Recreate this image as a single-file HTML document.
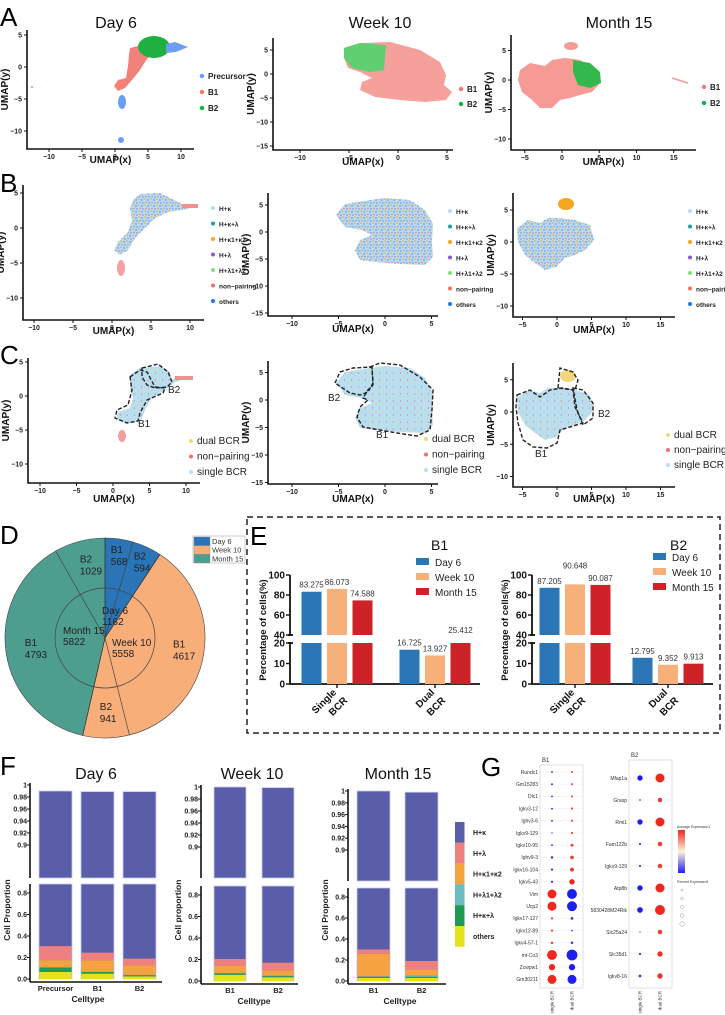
<!DOCTYPE html>
<html><head><meta charset="utf-8">
<style>
html,body{margin:0;padding:0;background:#fff;}
svg{display:block;font-family:"Liberation Sans",sans-serif;}
.tk{font-size:7px;font-weight:bold;fill:#222;}
.lg{font-size:8px;font-weight:bold;fill:#222;}
.lgs{font-size:6.5px;font-weight:bold;fill:#222;}
.lgc{font-size:10px;fill:#222;}
.pl{font-size:26px;fill:#000;}
.ttl{font-size:16px;fill:#111;}
</style></head>
<body>
<svg id="fig" width="725" height="1015" viewBox="0 0 725 1015" xmlns="http://www.w3.org/2000/svg">
<defs>
<pattern id="mixB" width="6" height="6" patternUnits="userSpaceOnUse">
<rect width="6" height="6" fill="#b5ddf2"/>
<circle cx="1" cy="1" r="0.8" fill="#f5a623"/><circle cx="4" cy="2" r="0.7" fill="#8a5cd0"/>
<circle cx="2" cy="4.5" r="0.7" fill="#f07070"/><circle cx="5" cy="5" r="0.6" fill="#1f77e4"/>
</pattern>
<pattern id="mixC" width="7" height="7" patternUnits="userSpaceOnUse">
<rect width="7" height="7" fill="#b8def2"/>
<circle cx="1.5" cy="2" r="0.6" fill="#f07070"/><circle cx="5" cy="5" r="0.7" fill="#f3d67c"/>
</pattern>
</defs>

<text class="pl" x="0" y="26">A</text>
<text class="pl" x="0" y="192">B</text>
<text class="pl" x="0" y="364">C</text>
<text class="pl" x="0" y="544">D</text>
<text class="pl" x="250" y="545">E</text>
<text class="pl" x="0" y="775">F</text>
<text class="pl" x="481" y="776">G</text>

<text class="ttl" x="116" y="28" text-anchor="middle">Day 6</text>
<text class="ttl" x="380" y="28" text-anchor="middle">Week 10</text>
<text class="ttl" x="619" y="28" text-anchor="middle">Month 15</text>

<g>
<polygon points="130,48 142,45 150,55 145,62 140,70 132,80 125,88 118,91 114,86 118,80 126,78 128,66 129,55" fill="#f3817b"/>
<ellipse cx="154" cy="47" rx="16" ry="11" fill="#1fb040"/>
<polygon points="166,44 175,42 188,47 176,52 166,53" fill="#6a9ff5"/>
<ellipse cx="122" cy="102" rx="4" ry="7" fill="#6a9ff5"/>
<ellipse cx="121" cy="140" rx="3" ry="3" fill="#6a9ff5"/>
<circle cx="32" cy="87" r="1" fill="#f3817b"/>
</g>
<g>
<polygon points="344,48 360,43 390,42 420,50 440,62 446,75 444,85 452,92 446,100 425,102 400,100 375,97 360,90 362,82 372,78 360,72 348,68 344,58" fill="#f6a09b"/>
<polygon points="344,48 360,43 386,45 384,70 370,72 352,68 344,58" fill="#5fcf72"/>
</g>
<g>
<polygon points="520,70 530,63 545,66 552,60 565,58 580,60 598,70 601,82 592,92 580,95 570,98 560,100 552,108 540,108 532,100 522,92 518,80" fill="#f59a94"/>
<polygon points="573,60 590,63 600,72 601,83 590,88 578,85 573,72" fill="#33b84e"/>
<ellipse cx="571" cy="46" rx="7" ry="4" fill="#f59a94"/>
<line x1="672" y1="78" x2="688" y2="83" stroke="#f59a94" stroke-width="1.5"/>
</g>

<g>
<polygon points="133,200 140,194 160,193 170,198 182,204 198,206 182,210 168,212 155,218 145,228 135,238 128,250 120,255 114,250 118,242 128,232 132,220 130,208" fill="url(#mixB)"/>
<rect x="182" y="204" width="16" height="4" fill="#f29090"/>
<ellipse cx="121" cy="268" rx="4" ry="8" fill="#f3a0a0"/>
</g>
<g>
<polygon points="336,215 345,204 370,200 385,198 410,200 425,210 433,224 432,242 433,257 425,265 400,264 375,262 360,260 355,250 360,240 372,235 362,230 345,227" fill="url(#mixB)"/>
</g>
<g>
<polygon points="517,228 528,220 540,223 548,218 560,218 575,220 590,225 594,240 585,250 575,255 565,258 556,267 545,270 535,263 525,255 518,242" fill="url(#mixB)"/>
<ellipse cx="566" cy="204" rx="8" ry="6" fill="#f5a623"/>
</g>

<g>
<polygon points="130,375 140,368 160,366 170,372 172,380 175,378 193,377 175,382 165,390 152,398 146,408 141,420 130,423 116,420 118,412 130,408 133,398 130,388" fill="url(#mixC)"/>
<rect x="175" y="376" width="18" height="4" fill="#f29090"/>
<ellipse cx="122" cy="436" rx="4" ry="6" fill="#f3a0a0"/>
<polygon points="130,377 140,370 147,372 155,387 165,388 163,393 147,400 140,413 138,421 127,423 115,418 117,410 128,405 132,390" fill="none" stroke="#222" stroke-width="1.4" stroke-dasharray="4,2"/>
<polygon points="142,368 158,364 168,372 172,382 167,387 155,388 147,385 142,377" fill="none" stroke="#222" stroke-width="1.4" stroke-dasharray="4,2"/>
<text class="lgc" x="138" y="427">B1</text>
<text class="lgc" x="168" y="393">B2</text>
</g>
<g>
<polygon points="336,383 345,372 370,368 385,366 410,368 425,378 433,392 432,410 433,425 425,433 400,432 375,430 360,428 355,418 360,408 372,403 362,398 345,395" fill="url(#mixC)"/>
<polygon points="335,383 340,372 353,368 372,367 373,383 368,392 360,395 350,393" fill="none" stroke="#222" stroke-width="1.4" stroke-dasharray="4,2"/>
<polygon points="370,367 380,363 400,365 420,377 433,390 432,410 430,430 417,436 397,433 380,430 363,427 357,417 360,407 368,400 363,398 368,390 373,385 372,368" fill="none" stroke="#222" stroke-width="1.4" stroke-dasharray="4,2"/>
<text class="lgc" x="328" y="401">B2</text>
<text class="lgc" x="376" y="438">B1</text>
</g>
<g>
<polygon points="517,398 528,390 540,393 548,388 560,388 575,390 590,395 594,410 585,420 575,425 565,428 556,437 545,440 535,433 525,425 518,412" fill="url(#mixC)"/>
<ellipse cx="568" cy="376" rx="8" ry="6" fill="#f3d67c"/>
<polygon points="517,395 530,390 540,397 550,390 562,388 573,390 575,407 583,423 560,430 557,443 547,448 533,447 523,440 518,423 516,407" fill="none" stroke="#222" stroke-width="1.4" stroke-dasharray="4,2"/>
<polygon points="573,388 583,390 593,403 593,418 583,425 577,410" fill="none" stroke="#222" stroke-width="1.4" stroke-dasharray="4,2"/>
<polygon points="558,388 560,368 573,372 578,380 575,390" fill="none" stroke="#222" stroke-width="1.4" stroke-dasharray="4,2"/>
<text class="lgc" x="598" y="417">B2</text>
<text class="lgc" x="535" y="457">B1</text>
</g>

<g id="umapAxes"></g>
<g id="legends"></g>
<g id="pieD"></g>
<rect x="247" y="517" width="473" height="216" fill="none" stroke="#222" stroke-width="1.5" stroke-dasharray="6,4"/>
<g id="chartE"></g>
<g id="chartF"></g>
<g id="chartG"></g>
</svg>

<script>
const pieGroups = ["Day 6","Week 10","Month 15"];
const pieGroupTotals = [1162, 5558, 5822];
const pieSubLabels = [["B1","B2"],["B1","B2"],["B1","B2"]];
const pieSubValues = [[568,594],[4617,941],[4793,1029]];
const eCategories = ["Single BCR","Dual BCR"];
const eSeries = ["Day 6","Week 10","Month 15"];
const eB1Single = [83.275, 86.073, 74.588];
const eB1Dual = [16.725, 13.927, 25.412];
const eB2Single = [87.205, 90.648, 90.087];
const eB2Dual = [12.795, 9.352, 9.913];
const eLowTicks = [0,10,20];
const eHighTicks = [40,60,80,100];
const fLayers = ["others","H+κ+λ","H+λ1+λ2","H+κ1+κ2","H+λ"];
const fLegend = ["H+κ","H+λ","H+κ1+κ2","H+λ1+λ2","H+κ+λ","others"];
const fDay6Cats = ["Precursor","B1","B2"];
const fDay6Vals = [[0.066,0.04,0.005,0.065,0.13],[0.05,0.015,0.005,0.105,0.07],[0.025,0.01,0.003,0.09,0.062]];
const fDay6Top = [0.99,0.989,0.989];
const fW10Cats = ["B1","B2"];
const fW10Vals = [[0.058,0.012,0.003,0.067,0.065],[0.035,0.01,0.005,0.05,0.07]];
const fW10Top = [1.0,0.999];
const fM15Cats = ["B1","B2"];
const fM15Vals = [[0.03,0.01,0.005,0.215,0.04],[0.03,0.01,0.01,0.06,0.08]];
const fM15Top = [1.0,0.998];
const fLowTicks = [0,0.2,0.4,0.6,0.8];
const fHighTicks = [0.9,0.92,0.94,0.96,0.98,1];
const gB1Genes = ["Rundc1","Gm15283","Dlc1","Igkv3-12","Ighv3-6","Igkv9-129","Igkv10-95","Ighv9-3","Igkv16-104","Igkv5-43","Vim","Ucp2","Igkv17-127","Igkv12-89","Igkv4-57-1","mt-Co3","Zcwpw1","Gm30211"];
const gB1ExpSingle = [-1,-1,-1,-1,-1,-0.8,-1,-1,-1,-1,1,1,0.8,0.8,0.8,1,1,1];
const gB1ExpDual = [0.8,0.8,0.8,0.8,0.8,0.8,0.9,0.9,0.9,1,-1,-1,-0.9,-0.8,-0.9,-1,-1,-1];
const gB1PctSingle = [1,1,1,1,1,0.8,1,1.3,1.2,1.2,5,5,1.3,1.3,1.5,5.5,3.5,5];
const gB1PctDual = [1.2,1.2,1.2,1.3,1.3,1.3,1.6,2,2.2,3,5.5,5.5,1.5,1,1.4,6,3.5,5];
const gB2Genes = ["Mfap1a","Grasp","Rmi1","Fam122b","Igkv9-129","Atp8b","5830428M24Rik","Slc25a24","Slc35d1","Igkv8-16"];
const gB2ExpSingle = [-1,-0.8,-1,-0.9,-0.9,-1,-1,-0.7,-0.9,-0.9];
const gB2ExpDual = [1,0.9,1,0.9,0.9,1,1,0.9,0.95,0.95];
const gB2PctSingle = [3,1,3,1.2,1.2,3,3.2,0.8,1.3,1.5];
const gB2PctDual = [5,2.5,5,2.5,2.5,5,5.5,2.5,3,3];

const NS = "http://www.w3.org/2000/svg";
function mk(parent, tag, attrs, text){
  const e = document.createElementNS(NS, tag);
  for (const k in attrs) e.setAttribute(k, attrs[k]);
  if (text !== undefined) e.textContent = text;
  parent.appendChild(e);
  return e;
}

const umapPanels = [
 {id:"a-day6",l:27,t:30,r:194,b:149,x0:115,xs:6.6,xt:[-10,-5,0,5,10],y0:67,ys:6.4,yt:[5,0,-5,-10],xl:163},
 {id:"a-week10",l:273,t:38,r:453,b:150,x0:398,xs:9.8,xt:[-10,-5,0,5],y0:74,ys:4.8,yt:[5,0,-5,-10,-15],xl:165},
 {id:"a-month15",l:511,t:35,r:696,b:150,x0:562,xs:7.45,xt:[-5,0,5,10,15],y0:80,ys:5.9,yt:[5,0,-5,-10],xl:165},
 {id:"b-day6",l:23,t:185,r:204,b:320,x0:112,xs:7.8,xt:[-10,-5,0,5,10],y0:228,ys:7,yt:[5,0,-5,-10],xl:334},
 {id:"b-week10",l:268,t:193,r:438,b:316,x0:385,xs:9.3,xt:[-10,-5,0,5],y0:232,ys:5.4,yt:[5,0,-5,-10,-15],xl:332},
 {id:"b-month15",l:513,t:193,r:675,b:317,x0:557,xs:6.9,xt:[-5,0,5,10,15],y0:242,ys:6.4,yt:[5,0,-5,-10],xl:333},
 {id:"c-day6",l:28,t:358,r:200,b:483,x0:113,xs:7.3,xt:[-10,-5,0,5,10],y0:396,ys:6.8,yt:[5,0,-5,-10],xl:502},
 {id:"c-week10",l:268,t:361,r:438,b:484,x0:385,xs:9.3,xt:[-10,-5,0,5],y0:400,ys:5.5,yt:[5,0,-5,-10,-15],xl:502},
 {id:"c-month15",l:513,t:363,r:675,b:487,x0:557,xs:6.9,xt:[-5,0,5,10,15],y0:412,ys:6.45,yt:[5,0,-5,-10],xl:502}
];
const ua = document.getElementById("umapAxes");
umapPanels.forEach(p=>{
  const g = mk(ua,"g",{});
  
  
  mk(g,"path",{d:`M${p.l},${p.t}V${p.b}H${p.r}`,fill:"none",stroke:"#111","stroke-width":1.6});
  p.xt.forEach(v=>{
    const x = p.x0 + v*p.xs;
    mk(g,"line",{x1:x,y1:p.b,x2:x,y2:p.b+3,stroke:"#111"});
    const t = mk(g,"text",{x:x,y:p.b+10,"text-anchor":"middle",class:"tk"}, v===0?"0":String(v).replace("-","−"));
    
    
  });
  p.yt.forEach(v=>{
    const y = p.y0 - v*p.ys;
    mk(g,"line",{x1:p.l-3,y1:y,x2:p.l,y2:y,stroke:"#111"});
    const t = mk(g,"text",{x:p.l-5,y:y+2.5,"text-anchor":"end",class:"tk"}, String(v).replace("-","−"));
    
    
  });
  const xt = mk(g,"text",{x:(p.l+p.r)/2,y:p.xl,"text-anchor":"middle",style:"font-size:10px;font-weight:bold;fill:#111"},"UMAP(x)");
  
  
  const yc = (p.t+p.b)/2;
  const yt = mk(g,"text",{x:p.l-19,y:yc,"text-anchor":"middle",transform:`rotate(-90 ${p.l-19} ${yc})`,style:"font-size:10px;font-weight:bold;fill:#111"},"UMAP(y)");
  
  
});

const legA1 = [["Precursor","#619cff"],["B1","#f8766d"],["B2","#00ba38"]];
const legA2 = [["B1","#f8766d"],["B2","#00ba38"]];
const legB = [["H+κ","#b5ddf2"],["H+κ+λ","#1aa5a0"],["H+κ1+κ2","#f5a623"],["H+λ","#8a5cd0"],["H+λ1+λ2","#7fe07f"],["non−pairing","#f07070"],["others","#1f77e4"]];
const legC = [["dual BCR","#f3d67c"],["non−pairing","#f07070"],["single BCR","#b8def2"]];
const lg = document.getElementById("legends");
function legend(items, x, y, dy, cls, r, name){
  const g = mk(lg,"g",{});
  
  
  items.forEach((it,i)=>{
    const e = mk(g,"g",{});
    
    
    mk(e,"circle",{cx:x,cy:y+i*dy,r:r,fill:it[1]});
    mk(e,"text",{x:x+6,y:y+i*dy+3,class:cls},it[0]);
  });
}
legend(legA1,202,76,16,"lg",2.2,"legend-a-day6");
legend(legA2,461,89,15,"lg",2.2,"legend-a-week10");
legend(legA2,704,87,16,"lg",2.2,"legend-a-month15");
legend(legB,213,208,15.5,"lgs",2,"legend-b-day6");
legend(legB,450,211,15.5,"lgs",2,"legend-b-week10");
legend(legB,690,211,15.5,"lgs",2,"legend-b-month15");
legend(legC,191,441,15.5,"lgc",2,"legend-c-day6");
legend(legC,426,439,15.5,"lgc",2,"legend-c-week10");
legend(legC,668,435,15,"lgc",2,"legend-c-month15");

const pieColors = ["#2a75b8","#f8ae78","#4e9e90"];
(function(){
  const g = document.getElementById("pieD");
  const cx=105, cy=638, R=100, r=50;
  const total = pieGroupTotals.reduce((a,b)=>a+b,0);
  const pt=(a,rad)=>[cx+rad*Math.sin(a), cy-rad*Math.cos(a)];
  let a0 = 0;
  pieGroups.forEach((grp,gi)=>{
    const subs = pieSubValues[gi];
    let sa = a0;
    subs.forEach((v,si)=>{
      const da = v/total*2*Math.PI;
      const p1=pt(sa,R), p2=pt(sa+da,R);
      const s = mk(g,"path",{d:`M${cx},${cy}L${p1[0]},${p1[1]}A${R},${R} 0 ${da>Math.PI?1:0} 1 ${p2[0]},${p2[1]}Z`,fill:pieColors[gi],stroke:"#444","stroke-width":0.6});
      
      
      const m = sa+da/2, lp = pt(m, (R+r)/2+ (gi===0?8:0));
      const t1 = mk(g,"text",{x:lp[0]-6,y:lp[1]-3,style:"font-size:10px;fill:#222"},pieSubLabels[gi][si]);
      const t2 = mk(g,"text",{x:lp[0]-6,y:lp[1]+9,style:"font-size:10px;fill:#222"},String(v));
      
      
      
      
      sa += da;
    });
    a0 += pieGroupTotals[gi]/total*2*Math.PI;
  });
  mk(g,"circle",{cx:cx,cy:cy,r:r,fill:"none",stroke:"#444","stroke-width":0.7});
  let b0=0;
  const innerPos = [[-3,-24],[7,8],[-42,-4]];
  pieGroups.forEach((grp,gi)=>{
    const p = pt(b0,R);
    mk(g,"line",{x1:cx,y1:cy,x2:p[0],y2:p[1],stroke:"#333","stroke-width":0.6});
    const t1 = mk(g,"text",{x:cx+innerPos[gi][0],y:cy+innerPos[gi][1],style:"font-size:10px;fill:#222"},grp);
    const t2 = mk(g,"text",{x:cx+innerPos[gi][0],y:cy+innerPos[gi][1]+11,style:"font-size:10px;fill:#222"},String(pieGroupTotals[gi]));
    
    
    
    
    b0 += pieGroupTotals[gi]/total*2*Math.PI;
  });
  const lgd = mk(g,"g",{});
  
  
  mk(lgd,"rect",{x:193,y:536,width:52,height:27,fill:"#fff",stroke:"#aaa","stroke-width":0.6});
  pieGroups.forEach((grp,gi)=>{
    mk(lgd,"rect",{x:194,y:537+gi*8.7,width:16,height:8.5,fill:pieColors[gi],stroke:"#888","stroke-width":0.4});
    mk(lgd,"text",{x:212,y:544+gi*8.7,style:"font-size:7.5px;fill:#333"},grp);
  });
})();

const eColors = ["#2a76b6","#f8b07a","#cc2228"];
function eChart(ax, xEnd, centers, single, dual, title, titleX, legX, legY, name){
  const g = document.getElementById("chartE");
  const c = mk(g,"g",{});
  
  
  const yLow = v => 684 - v*2.05;
  const yHigh = v => 635 - (v-40)*1.0;
  mk(c,"path",{d:`M${ax},643V684H${xEnd}`,fill:"none",stroke:"#111","stroke-width":1.8});
  mk(c,"line",{x1:ax,y1:575,x2:ax,y2:635,stroke:"#111","stroke-width":1.8});
  mk(c,"line",{x1:ax-2,y1:635,x2:ax+3,y2:635,stroke:"#111","stroke-width":1.8});
  mk(c,"line",{x1:ax-2,y1:643,x2:ax+3,y2:643,stroke:"#111","stroke-width":1.8});
  eLowTicks.forEach(v=>{
    const y=yLow(v);
    mk(c,"line",{x1:ax-4,y1:y,x2:ax,y2:y,stroke:"#111","stroke-width":1.4});
    const t = mk(c,"text",{x:ax-5,y:y+3.5,"text-anchor":"end",style:"font-size:10px;font-weight:bold;fill:#111"},String(v));
    
    
  });
  eHighTicks.forEach(v=>{
    const y=yHigh(v);
    mk(c,"line",{x1:ax-4,y1:y,x2:ax,y2:y,stroke:"#111","stroke-width":1.4});
    const t = mk(c,"text",{x:ax-5,y:y+3.5,"text-anchor":"end",style:"font-size:10px;font-weight:bold;fill:#111"},String(v));
    
    
  });
  const yt = mk(c,"text",{x:ax-24,y:630,"text-anchor":"middle",transform:`rotate(-90 ${ax-24} 630)`,style:"font-size:9.5px;font-weight:bold;fill:#111"},"Percentage of cells(%)");
  
  
  [single, dual].forEach((vals,ci)=>{
    const cx = centers[ci];
    mk(c,"line",{x1:cx,y1:684,x2:cx,y2:688,stroke:"#111","stroke-width":1.4});
    vals.forEach((v,si)=>{
      const x = cx + (si-1)*25.5 - 10;
      const lowTop = Math.min(v,20);
      const b = mk(c,"rect",{x:x,y:yLow(lowTop),width:20,height:yLow(0)-yLow(lowTop),fill:eColors[si]});
      
      
      let ly;
      if (v>40){
        const h = mk(c,"rect",{x:x,y:yHigh(v),width:20,height:yHigh(40)-yHigh(v),fill:eColors[si]});
        
        
        ly = yHigh(v)-4 - (si===1 && ci===0 && title==="B2" ? 12 : 0);
      } else if (v>20){ ly = yLow(20)-10; }
      else { ly = yLow(v)-4; }
      const t = mk(c,"text",{x:x+10,y:ly,"text-anchor":"middle",style:"font-size:8px;fill:#333"},v.toFixed(3));
      
      
    });
    const parts = eCategories[ci].split(" ");
    const t1 = mk(c,"text",{x:cx,y:693,"text-anchor":"end",transform:`rotate(-45 ${cx} 693)`,style:"font-size:10px;font-weight:bold;fill:#111"},parts[0]);
    const t2 = mk(c,"text",{x:cx+11,y:701,"text-anchor":"end",transform:`rotate(-45 ${cx+11} 701)`,style:"font-size:10px;font-weight:bold;fill:#111"},parts[1]);
    
    
    
    
  });
  const tt = mk(c,"text",{x:titleX,y:550,style:"font-size:14px;fill:#111"},title);
  
  
  eSeries.forEach((s,si)=>{
    const e = mk(c,"g",{});
    
    
    mk(e,"rect",{x:legX,y:legY+si*15-4,width:13,height:7,fill:eColors[si]});
    mk(e,"text",{x:legX+19,y:legY+si*15+4,style:"font-size:10px;fill:#222"},s);
  });
}
eChart(290,480,[337,435],eB1Single,eB1Dual,"B1",431,416,562,"bar-chart-e-b1");
eChart(532,713,[575,668],eB2Single,eB2Dual,"B2",670,653,557,"bar-chart-e-b2");

const fColors = {"H+κ":"#5a5ea8","H+λ":"#ee8080","H+κ1+κ2":"#f7a240","H+λ1+λ2":"#6dbcc2","H+κ+λ":"#1f9a4f","others":"#e5e21a"};
function fChart(cfg){
  const g = document.getElementById("chartF");
  const c = mk(g,"g",{});
  
  
  const yU = v => cfg.u1 + (1-v)*cfg.us;
  const yL = v => cfg.l0 - v*cfg.ls;
  mk(c,"line",{x1:cfg.ax,y1:cfg.u1-2,x2:cfg.ax,y2:cfg.ub,stroke:"#111","stroke-width":1.6});
  mk(c,"line",{x1:cfg.ax,y1:cfg.lt,x2:cfg.ax,y2:cfg.l0+3,stroke:"#111","stroke-width":1.6});
  mk(c,"line",{x1:cfg.ax,y1:cfg.l0+3,x2:cfg.xe,y2:cfg.l0+3,stroke:"#111","stroke-width":1.6});
  fHighTicks.forEach(v=>{
    const y=yU(v);
    mk(c,"line",{x1:cfg.ax-3,y1:y,x2:cfg.ax,y2:y,stroke:"#111"});
    const t = mk(c,"text",{x:cfg.ax-3,y:y+2.5,"text-anchor":"end",style:"font-size:7px;font-weight:bold;fill:#222"},String(v));
    
    
  });
  fLowTicks.forEach(v=>{
    const y=yL(v);
    mk(c,"line",{x1:cfg.ax-3,y1:y,x2:cfg.ax,y2:y,stroke:"#111"});
    const t = mk(c,"text",{x:cfg.ax-3,y:y+2.5,"text-anchor":"end",style:"font-size:7px;font-weight:bold;fill:#222"},v.toFixed(1));
    
    
  });
  cfg.cats.forEach((cat,ci)=>{
    const x = cfg.bx[ci], w = cfg.bw;
    const top = cfg.top[ci];
    const up = mk(c,"rect",{x:x,y:yU(top),width:w,height:cfg.ub-yU(top),fill:fColors["H+κ"],stroke:"#c9cbe8","stroke-width":0.8});
    
    
    let cum = 0;
    const segs = cfg.vals[ci];
    const lo = mk(c,"rect",{x:x,y:cfg.lt,width:w,height:cfg.l0-cfg.lt,fill:fColors["H+κ"],stroke:"#c9cbe8","stroke-width":0.8});
    
    
    segs.forEach((v,li)=>{
      const y1 = yL(cum+v), y0 = yL(cum);
      const r = mk(c,"rect",{x:x+0.4,y:y1,width:w-0.8,height:y0-y1,fill:fColors[fLayers[li]]});
      
      
      cum += v;
    });
    const t = mk(c,"text",{x:x+w/2,y:cfg.l0+12,"text-anchor":"middle",style:"font-size:7.5px;font-weight:bold;fill:#222"},cat);
    
    
  });
  const xt = mk(c,"text",{x:cfg.ctx,y:cfg.l0+23,"text-anchor":"middle",style:"font-size:8.5px;font-weight:bold;fill:#222"},"Celltype");
  
  
  const yc=910;
  const yt = mk(c,"text",{x:cfg.ax-20,y:yc,"text-anchor":"middle",transform:`rotate(-90 ${cfg.ax-20} ${yc})`,style:"font-size:8.5px;font-weight:bold;fill:#222"},cfg.ytitle);
  
  
  const tt = mk(c,"text",{x:cfg.tx,y:779,"text-anchor":"middle",style:"font-size:16px;fill:#111"},cfg.title);
  
  
}
fChart({name:"stacked-bar-f-day6",title:"Day 6",tx:96,ax:30,xe:162,u1:785,us:600,ub:878,l0:979,ls:107.5,lt:884,bx:[39,81,123],bw:33,cats:fDay6Cats,vals:fDay6Vals,top:fDay6Top,ctx:88,ytitle:"Cell Proportion"});
fChart({name:"stacked-bar-f-week10",title:"Week 10",tx:252,ax:201,xe:298,u1:787,us:600,ub:878,l0:981,ls:107.5,lt:886,bx:[214,262],bw:32,cats:fW10Cats,vals:fW10Vals,top:fW10Top,ctx:254,ytitle:"Cell proportion"});
fChart({name:"stacked-bar-f-month15",title:"Month 15",tx:398,ax:348,xe:446,u1:791,us:590,ub:881,l0:981,ls:105,lt:888,bx:[357,405],bw:33,cats:fM15Cats,vals:fM15Vals,top:fM15Top,ctx:400,ytitle:"Cell Proportion"});
(function(){
  const g = mk(document.getElementById("chartF"),"g",{});
  
  
  fLegend.forEach((k,i)=>{
    const e = mk(g,"g",{});
    
    
    mk(e,"rect",{x:455,y:822+i*20.8,width:9.5,height:20.8,fill:fColors[k]});
    mk(e,"text",{x:473,y:835+i*20.8,style:"font-size:7px;font-weight:bold;fill:#222"},k);
  });
})();

function expColor(v){
  if (v>=0){ const t=v; return `rgb(${Math.round(255-(255-238)*t)},${Math.round(255-(255-40)*t)},${Math.round(255-(255-30)*t)})`; }
  const t=-v; return `rgb(${Math.round(255-(255-30)*t)},${Math.round(255-(255-30)*t)},${Math.round(255-(255-238)*t)})`;
}
function gPanel(genes, es, ed, ps, pd, box, y0, dy, colX, title, name){
  const g = mk(document.getElementById("chartG"),"g",{});
  
  
  mk(g,"rect",{x:box[0],y:box[1],width:box[2],height:box[3],fill:"#fff",stroke:"#ccc","stroke-width":0.6});
  mk(g,"text",{x:box[0]+2,y:box[1]-3,style:"font-size:6px;fill:#333"},title);
  genes.forEach((gn,i)=>{
    const y = y0 + i*dy;
    mk(g,"line",{x1:box[0],y1:y,x2:box[0]+box[2],y2:y,stroke:"#eee","stroke-width":0.5});
    const t = mk(g,"text",{x:box[0]-2,y:y+1.8,"text-anchor":"end",style:"font-size:5px;fill:#333"},gn);
    
    
    const d1 = mk(g,"circle",{cx:colX[0],cy:y,r:ps[i]*0.9,fill:expColor(es[i])});
    
    
    const d2 = mk(g,"circle",{cx:colX[1],cy:y,r:pd[i]*0.9,fill:expColor(ed[i])});
    
    
  });
  ["single BCR","dual BCR"].forEach((lab,k)=>{
    const x=colX[k], y=box[1]+box[3]+3;
    mk(g,"text",{x:x+1.5,y:y,"text-anchor":"end",transform:`rotate(-90 ${x+1.5} ${y})`,style:"font-size:4.5px;fill:#333"},lab);
  });
}
gPanel(gB1Genes,gB1ExpSingle,gB1ExpDual,gB1PctSingle,gB1PctDual,[540,765,43,223],772,12.2,[552,572],"B1","dot-plot-g-b1");
gPanel(gB2Genes,gB2ExpSingle,gB2ExpDual,gB2PctSingle,gB2PctDual,[629,760,43,228],778,22,[640,660],"B2","dot-plot-g-b2");
(function(){
  const g = mk(document.getElementById("chartG"),"g",{});
  
  
  const gr = mk(g,"linearGradient",{id:"cbar",x1:0,y1:0,x2:0,y2:1});
  mk(gr,"stop",{offset:"0","stop-color":"#ee2820"});
  mk(gr,"stop",{offset:"0.5","stop-color":"#fff4d8"});
  mk(gr,"stop",{offset:"1","stop-color":"#2020ee"});
  mk(g,"text",{x:677,y:828,style:"font-size:3.5px;fill:#333"},"Average Expression1");
  mk(g,"rect",{x:678,y:830,width:7,height:43,fill:"url(#cbar)"});
  mk(g,"text",{x:677,y:883,style:"font-size:3.5px;fill:#333"},"Percent Expressed1");
  [1,1.3,1.6,1.9,2.2].forEach((r,i)=>{
    mk(g,"circle",{cx:682,cy:890+i*8.5,r:r,fill:"none",stroke:"#888","stroke-width":0.4});
  });
})();
</script>
</body></html>
